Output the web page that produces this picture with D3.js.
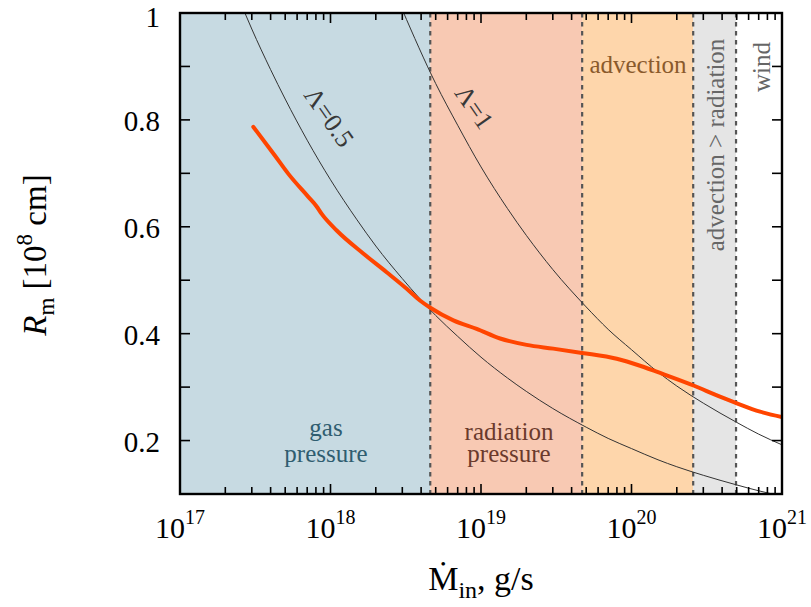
<!DOCTYPE html>
<html>
<head>
<meta charset="utf-8">
<script src="https://cdn.jsdelivr.net/npm/d3@7"></script>
<style>
  body { margin: 0; background: #fff; }
  text { font-family: "Liberation Serif", "DejaVu Serif", serif; }
</style>
</head>
<body>
<div id="chart"></div>
<script>
// regime boundaries along Mdot (g/s) and their fills
var regionEdges = [1e17, 4.6e18, 4.7e19, 2.57e20, 4.95e20, 1e21];
var regionColors = ["#c7dae2", "#f8c9b3", "#fed6ab", "#e5e5e5", "#ffffff"];
var dashedAt = [4.6e18, 4.7e19, 2.57e20, 4.95e20];

// R_m curve (orange)
var rmMdot = [3.07e17, 4.28e17, 5.25e17, 7.12e17, 8.09e17, 8.74e17, 1.10e18, 1.65e18, 2.36e18, 3.21e18,
  3.93e18, 4.63e18, 6.55e18, 9.36e18, 1.34e19, 2.01e19, 3.02e19, 4.69e19, 7.98e19, 1.14e20,
  1.71e20, 2.58e20, 3.87e20, 4.88e20, 7.15e20, 9.96e20];
var rmValue = [0.787, 0.733, 0.699, 0.656, 0.638, 0.624, 0.593, 0.550, 0.515, 0.484,
  0.462, 0.448, 0.425, 0.409, 0.391, 0.379, 0.372, 0.364, 0.353, 0.340,
  0.322, 0.303, 0.282, 0.271, 0.254, 0.244];

// thin Lambda curves
var lamHalfMdot = [2.7e17, 3e17, 4e17, 5e17, 7e17, 1e18, 1.5e18, 2e18, 3e18, 5e18, 7e18, 1e19,
  1.5e19, 2e19, 3e19, 5e19, 7e19, 1e20, 1.5e20, 2e20, 3e20, 5e20, 7e20, 1e21];
var lamHalfR = [1.0, 0.970, 0.894, 0.839, 0.762, 0.688, 0.613, 0.564, 0.503, 0.434, 0.395, 0.356,
  0.317, 0.292, 0.260, 0.225, 0.204, 0.185, 0.164, 0.151, 0.135, 0.117, 0.106, 0.096];
var lamOneMdot = [3e18, 5e18, 7e18, 1e19, 1.5e19, 2e19, 3e19, 5e19, 7e19, 1e20, 1.5e20, 2e20, 3e20, 5e20, 7e20, 1e21];
var lamOneR = [1.006, 0.868, 0.790, 0.712, 0.634, 0.584, 0.520, 0.450, 0.408, 0.370, 0.328, 0.302, 0.270, 0.234, 0.212, 0.192];

var yTickValues = [0.2, 0.4, 0.6, 0.8, 1];
var xDecades = [17, 18, 19, 20, 21];

var width = 811, height = 607;
var margin = {left: 180, right: 29, top: 13, bottom: 113};

var svg = d3.select("#chart").append("svg")
    .attr("width", width)
    .attr("height", height);

var x = d3.scaleLog().domain([1e17, 1e21]).range([margin.left, width - margin.right]);
var y = d3.scaleLinear().domain([0.1, 1]).range([height - margin.bottom, margin.top]);

svg.append("clipPath").attr("id", "clip")
  .append("rect")
    .attr("x", x.range()[0]).attr("y", y.range()[1])
    .attr("width", x.range()[1] - x.range()[0])
    .attr("height", y.range()[0] - y.range()[1]);

// background regimes
svg.selectAll("rect.region")
  .data(regionColors)
  .enter().append("rect")
    .attr("class", "region")
    .attr("x", (d, i) => x(regionEdges[i]))
    .attr("width", (d, i) => x(regionEdges[i + 1]) - x(regionEdges[i]))
    .attr("y", y(1))
    .attr("height", y(0.1) - y(1))
    .attr("fill", d => d);

svg.selectAll("line.bound")
  .data(dashedAt)
  .enter().append("line")
    .attr("x1", d => x(d)).attr("x2", d => x(d))
    .attr("y1", y(1)).attr("y2", y(0.1))
    .attr("stroke", "#555")
    .attr("stroke-width", 2.2)
    .attr("stroke-dasharray", "4.5,4.5");

var line = d3.line()
    .x(d => x(d[0]))
    .y(d => y(d[1]))
    .curve(d3.curveMonotoneX);

var g = svg.append("g").attr("clip-path", "url(#clip)");

g.append("path")
    .datum(d3.zip(lamHalfMdot, lamHalfR))
    .attr("d", line)
    .attr("fill", "none")
    .attr("stroke", "#333")
    .attr("stroke-width", 1);
g.append("path")
    .datum(d3.zip(lamOneMdot, lamOneR))
    .attr("d", line)
    .attr("fill", "none")
    .attr("stroke", "#333")
    .attr("stroke-width", 1);

g.append("path")
    .datum(d3.zip(rmMdot, rmValue))
    .attr("d", line)
    .attr("fill", "none")
    .attr("stroke", "#ff4500")
    .attr("stroke-width", 4)
    .attr("stroke-linecap", "round");

// regime labels
function label(txt, px, py, color, rot, size) {
  svg.append("text")
    .attr("transform", "translate(" + px + "," + py + ") rotate(" + (rot || 0) + ")")
    .attr("text-anchor", "middle")
    .attr("fill", color)
    .style("font-size", (size || 25) + "px")
    .text(txt);
}
label("gas", 326, 436, "#2f5d70");
label("pressure", 326, 462, "#2f5d70");
label("radiation", 509, 440, "#6b3a2c");
label("pressure", 509, 462, "#6b3a2c");
label("advection", 638, 73, "#8a5a2c");
label("advection > radiation", 724, 145, "#666", -90);
label("wind", 770, 67, "#666", -90);
label("\u039b=0.5", 322, 122, "#383838", 55, 26);
label("\u039b=1", 467, 112, "#383838", 55, 26);

// ticks, inward on all four sides
var minor = [];
xDecades.slice(0, -1).forEach(function(e) {
  for (var k = 2; k < 10; k++) minor.push(k * Math.pow(10, e));
});
var majorX = xDecades.map(e => Math.pow(10, e));
var ticks = svg.append("g").attr("stroke", "#000").attr("stroke-width", 1.6);
[y(0.1), y(1)].forEach(function(y0, side) {
  var dir = side === 0 ? -1 : 1;
  majorX.concat(minor).forEach(function(v) {
    var len = majorX.indexOf(v) >= 0 ? 10 : 7;
    ticks.append("line").attr("x1", x(v)).attr("x2", x(v))
      .attr("y1", y0).attr("y2", y0 + dir * len);
  });
});
d3.range(1, 10).map(i => i / 10).concat([1]).forEach(function(v) {
  ticks.append("line").attr("x1", x(1e17)).attr("x2", x(1e17) + 10).attr("y1", y(v)).attr("y2", y(v));
  ticks.append("line").attr("x1", x(1e21)).attr("x2", x(1e21) - 10).attr("y1", y(v)).attr("y2", y(v));
});

// frame
svg.append("rect")
    .attr("x", x(1e17)).attr("y", y(1))
    .attr("width", x(1e21) - x(1e17))
    .attr("height", y(0.1) - y(1))
    .attr("fill", "none")
    .attr("stroke", "#000")
    .attr("stroke-width", 2.4);

// tick labels (the top one nudged down so it stays inside the page)
svg.selectAll("text.ylab")
  .data(yTickValues)
  .enter().append("text")
    .attr("x", x(1e17) - 20)
    .attr("y", d => y(d) + (d === 1 ? 14 : 11))
    .attr("text-anchor", "end")
    .style("font-size", "29px")
    .text(d => d === 1 ? "1" : d3.format(".1f")(d));

xDecades.forEach(function(e) {
  var t = svg.append("text")
    .attr("x", x(Math.pow(10, e)))
    .attr("y", 538)
    .attr("text-anchor", "middle")
    .style("font-size", "30px");
  t.append("tspan").text("10");
  t.append("tspan").attr("dy", -14).style("font-size", "20px").text(e);
});

// axis titles
var yt = svg.append("text")
    .attr("transform", "translate(46,255) rotate(-90)")
    .attr("text-anchor", "middle")
    .style("font-size", "33px");
yt.append("tspan").style("font-style", "italic").text("R");
yt.append("tspan").attr("dy", 8).style("font-size", "23px").text("m");
yt.append("tspan").attr("dy", -8).text(" [10");
yt.append("tspan").attr("dy", -14).style("font-size", "23px").text("8");
yt.append("tspan").attr("dy", 14).text(" cm]");

var xt = svg.append("text")
    .attr("x", 481)
    .attr("y", 590)
    .attr("text-anchor", "middle")
    .style("font-size", "34px");
xt.append("tspan").text("\u1e40");
xt.append("tspan").attr("dy", 8).style("font-size", "24px").text("in");
xt.append("tspan").attr("dy", -8).text(", g/s");
</script>
</body>
</html>
